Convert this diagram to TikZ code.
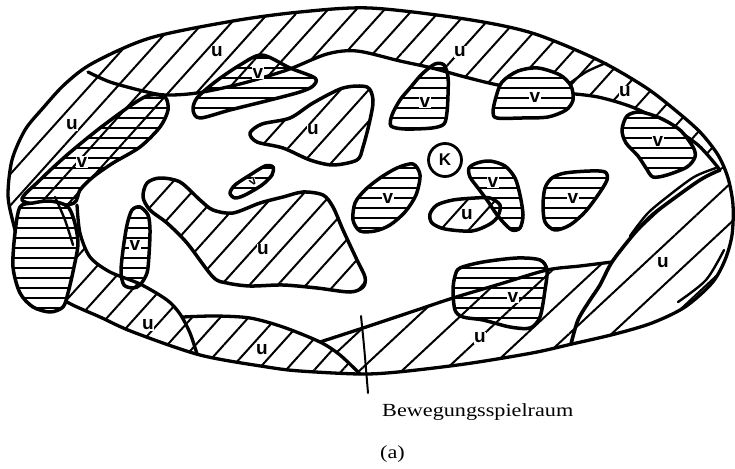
\documentclass[tikz,border=0pt]{standalone}
\usepackage{fontspec}
\newfontfamily\labfont{Liberation Sans}
\newfontfamily\capfont[FakeStretch=1.2]{Liberation Serif}
\usetikzlibrary{patterns.meta}
\def\OuterPath{plot[smooth cycle] coordinates {(370,8) (465,19) (532,33) (598,60) (645,87) (675,110) (700,132) (718,155) (728,178) (733,205) (732,235) (725,260) (712,283) (685,307) (652,323) (615,334) (572,344) (532,353) (465,364) (398,372) (360,374) (300,371) (267,367) (200,355) (133,332) (100,317) (67,302) (40,282) (22,252) (13,222) (8,195) (12,160) (25,130) (43,108) (65,84) (93,63) (150,38) (233,21) (300,12)}}
\def\FreePath{plot[smooth] coordinates {(165,95) (197,93) (240,84) (287,70) (327,54) (357,51) (400,61) (432,68) (465,77) (498,85) (532,90) (565,93) (598,97) (632,107) (665,123) (698,145) (720,170)} -- plot[smooth] coordinates {(720,170) (700,180) (665,205) (650,217) (633,235) (612,262)} -- plot[smooth] coordinates {(612,262) (580,266) (547,270) (500,284) (453,298) (417,310) (363,328) (320,342)} -- plot[smooth] coordinates {(320,342) (283,327) (250,318) (215,316) (183,317)} -- plot[smooth] coordinates {(183,317) (167,300) (140,284) (110,272) (90,257) (80,233) (77,205) (82,190) (93,177) (113,163) (140,147) (160,127) (168,110) (165,95)} -- cycle}
\tikzset{
  uhatch/.style={pattern={Lines[angle=48,distance=21pt,line width=2pt]}},
  uwide/.style={pattern={Lines[angle=43,distance=29pt,line width=2pt]}},
  vhatch/.style={pattern={Lines[angle=0,distance=10pt,line width=1.9pt]}},
  outline/.style={line width=3.3pt, line join=round, line cap=round},
  blob/.style={outline, line width=3.5pt},
  thinline/.style={line width=2pt, line cap=round},
  lab/.style={font=\labfont\bfseries\fontsize{19}{19}\selectfont, fill=white, inner sep=0.6pt},
  smalllab/.style={font=\labfont\bfseries\fontsize{12}{12}\selectfont, fill=white, inner sep=0.3pt},
  captext/.style={font=\capfont\fontsize{18.5}{18.5}\selectfont, inner sep=0pt, anchor=base west}
}
\begin{document}
\begin{tikzpicture}[x=1pt,y=-1pt]
\useasboundingbox (0,0) rectangle (735,468);
% ring of u
\fill[uhatch, even odd rule] \OuterPath \FreePath;
\begin{scope}
\clip \OuterPath;
% right region
\fill[white] plot[smooth] coordinates {(720,170) (700,180) (665,205) (650,217) (633,235) (612,262) (600,285) (590,300) (578,320) (571,344)} -- (590,430) -- (770,430) -- (770,150) -- cycle;
\fill[uwide] plot[smooth] coordinates {(720,170) (700,180) (665,205) (650,217) (633,235) (612,262) (600,285) (590,300) (578,320) (571,344)} -- (590,430) -- (770,430) -- (770,150) -- cycle;
% bottom right region
\fill[white] plot[smooth] coordinates {(612,262) (580,266) (547,270) (500,284) (453,298) (417,310) (363,328) (320,342)} -- plot[smooth] coordinates {(320,342) (340,355) (360,374)} -- (360,430) -- (575,430) -- plot[smooth] coordinates {(571,344) (578,320) (590,300) (600,285) (612,262)} -- cycle;
\fill[uwide] plot[smooth] coordinates {(612,262) (580,266) (547,270) (500,284) (453,298) (417,310) (363,328) (320,342)} -- plot[smooth] coordinates {(320,342) (340,355) (360,374)} -- (360,430) -- (575,430) -- plot[smooth] coordinates {(571,344) (578,320) (590,300) (600,285) (612,262)} -- cycle;
\end{scope}
% boundary lines
\draw[outline] \OuterPath;
\draw[outline] plot[smooth] coordinates {(88,72) (110,82) (143,91) (165,95) (197,93) (240,84) (287,70) (327,54) (357,51) (400,61) (432,68) (465,77) (498,85) (532,90) (565,93) (598,97) (632,107) (665,123) (698,145) (720,170)};
\draw[outline, line width=3.6pt] plot[smooth] coordinates {(720,170) (700,180) (665,205) (650,217) (633,235) (612,262) (600,285) (590,300) (578,320) (571,344)};
\draw[outline, line width=2.4pt] plot[smooth] coordinates {(716,168) (694,177) (667,197) (647,214) (630,236)};
\draw[outline] plot[smooth] coordinates {(612,262) (580,266) (547,270) (500,284) (453,298) (417,310) (363,328) (320,342)};
\draw[outline] plot[smooth] coordinates {(183,317) (215,316) (250,318) (283,327) (320,342) (340,355) (360,374)};
\draw[outline] plot[smooth] coordinates {(77,205) (80,233) (90,257) (110,272) (140,284) (167,300) (180,314) (190,333) (197,354)};
\draw[thinline, line width=2.4pt] plot[smooth] coordinates {(724,250) (706,280) (678,302)};
\draw[thinline, line width=2.4pt] plot[smooth] coordinates {(566,86) (586,72) (606,63)};
% straddling blobs
\draw[blob, vhatch] plot[smooth cycle] coordinates {(22,200) (40,180) (67,155) (100,128) (133,104) (150,95) (165,97) (168,110) (160,127) (140,147) (113,163) (93,177) (80,190) (74,203) (50,206)};
\draw[blob, vhatch, preaction={fill=white}] plot[smooth cycle] coordinates {(20,207) (33,203) (50,201) (67,206) (74,220) (78,243) (74,267) (68,293) (63,307) (50,312) (33,307) (20,293) (13,267) (15,233)};
\draw[thinline, line width=2.4pt] plot[smooth] coordinates {(55,197) (65,220) (73,245)};
\draw[blob, vhatch] plot[smooth cycle] coordinates {(262,55) (290,68) (315,78) (313,86) (300,92) (270,100) (230,110) (200,118) (193,110) (197,98) (215,82) (240,65)};
\draw[blob, vhatch, preaction={fill=white}] plot[smooth cycle] coordinates {(518,71) (538,68) (560,75) (571,86) (573,100) (566,110) (548,117) (522,118) (497,118) (493,112) (496,97) (502,82)};
\draw[blob, vhatch, preaction={fill=white}] plot[smooth cycle] coordinates {(627,116) (640,112) (660,118) (680,130) (693,147) (695,157) (687,167) (667,175) (653,177) (646,168) (638,156) (626,143) (622,130)};
\draw[blob, vhatch] plot[smooth cycle] coordinates {(460,268) (483,262) (517,258) (540,260) (547,270) (545,290) (540,317) (530,328) (510,327) (483,320) (463,317) (455,310) (453,290) (455,276)};
% obstacles in free space
\draw[blob, uhatch] plot[smooth cycle] coordinates {(250,133) (262,124) (290,118) (313,103) (343,88) (367,87) (373,100) (370,120) (363,147) (357,160) (333,165) (310,160) (283,148) (257,142)};
\draw[blob, vhatch] plot[smooth cycle] coordinates {(230,193) (235,185) (250,175) (265,166) (273,167) (272,175) (262,185) (245,195) (235,198)};
\draw[blob, uhatch] plot[smooth cycle] coordinates {(147,183) (160,178) (180,182) (200,200) (213,210) (233,213) (260,203) (283,197) (303,192) (323,195) (333,207) (343,230) (357,260) (365,277) (363,287) (350,292) (317,288) (283,285) (250,286) (227,283) (213,277) (187,243) (167,223) (150,210) (143,197)};
\draw[blob, vhatch] plot[smooth cycle] coordinates {(140,207) (148,215) (150,230) (149,255) (147,273) (140,285) (133,288) (124,285) (121,272) (123,250) (127,225) (132,210)};
\draw[blob, vhatch] plot[smooth cycle] coordinates {(413,164) (420,175) (416,195) (405,212) (390,225) (375,231) (360,231) (353,220) (355,203) (365,190) (380,178) (397,168)};
\draw[blob, vhatch] plot[smooth cycle] coordinates {(477,163) (490,161) (505,166) (515,178) (520,195) (523,215) (520,228) (512,230) (503,222) (495,212) (487,200) (478,188) (470,177) (469,168)};
\draw[blob, uhatch] plot[smooth cycle] coordinates {(430,214) (437,205) (453,200) (475,198) (490,198) (500,205) (498,216) (490,224) (472,231) (445,229) (432,223)};
\draw[blob, vhatch] plot[smooth cycle] coordinates {(552,178) (565,173) (590,171) (605,172) (607,180) (598,195) (585,212) (570,225) (555,230) (545,222) (543,205) (545,188)};
\draw[blob, vhatch] plot[smooth cycle] coordinates {(435,64) (444,65) (448,77) (448,95) (447,112) (444,124) (432,128) (405,129) (391,126) (392,115) (400,100) (410,88) (422,74)};
% pointer
\coordinate (ptop) at (361,316);
\coordinate (pbot) at (368,393);
\draw[thinline] (ptop) .. controls (364,345) .. (pbot);
% labels
\node[circle, draw, line width=2.8pt, minimum size=33pt, inner sep=0pt, font=\labfont\bfseries\fontsize{17}{17}\selectfont] (K) at (445,160) {K};
\node[lab] (u1) at (72,125) {u};
\node[lab] (u2) at (217,52) {u};
\node[lab] (u3) at (460,52) {u};
\node[lab] (u4) at (625,92) {u};
\node[lab] (u5) at (313,130) {u};
\node[lab] (u6) at (263,250) {u};
\node[lab] (u7) at (148,325) {u};
\node[lab] (u8) at (262,350) {u};
\node[lab] (u9) at (480,338) {u};
\node[lab] (u10) at (663,263) {u};
\node[lab] (u11) at (467,215) {u};
\node[lab] (v1) at (82,162) {v};
\node[lab] (v2) at (258,73) {v};
\node[lab] (v3) at (135,245) {v};
\node[lab] (v4) at (388,198) {v};
\node[lab] (v5) at (493,182) {v};
\node[lab] (v6) at (573,198) {v};
\node[lab] (v7) at (425,102) {v};
\node[lab] (v8) at (535,97) {v};
\node[lab] (v9) at (658,141) {v};
\node[lab] (v10) at (513,297) {v};
\node[smalllab, rotate=35] (v11) at (253,182) {v};
\node[captext] (cap) at (382,416) {Bewegungsspielraum};
\node[captext] (sub) at (380,458) {(a)};
\end{tikzpicture}
\end{document}
